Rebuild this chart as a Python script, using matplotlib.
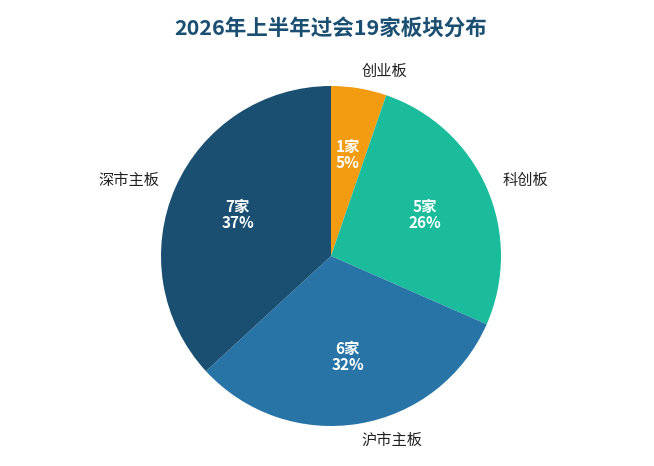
import matplotlib
matplotlib.use("Agg")
import matplotlib.pyplot as plt

plt.rcParams['font.family'] = ['Noto Sans CJK SC', 'DejaVu Sans']

boards = ["创业板", "科创板", "沪市主板", "深市主板"]
counts = [1, 5, 6, 7]
colors = ["#F39C12", "#1ABC9C", "#2874A6", "#1B4F72"]
title = "2026年上半年过会19家板块分布"

total = sum(counts)

fig = plt.figure(figsize=(6.54, 4.66), dpi=100)
# pie centre at (331, 256) px from top-left, radius ~170 px
ax = fig.add_axes([131 / 654, 10 / 466, 400 / 654, 400 / 466])
lim = 200 / 170


def fmt(pct):
    n = int(round(pct * total / 100))
    return f"{n}家\n{pct:.0f}%"


wedges, texts, autotexts = ax.pie(
    counts, labels=boards, colors=colors, startangle=90, counterclock=False,
    autopct=fmt, pctdistance=0.6, labeldistance=1.1,
    textprops={"fontsize": 11, "color": "#222222"},
)
for t in autotexts:
    t.set_color("white")
    t.set_fontweight("bold")
    t.set_fontsize(11)
    t.set_linespacing(1.0)
ax.set_aspect("equal")
ax.set_xlim(-lim, lim)
ax.set_ylim(-lim, lim)
ax.axis("off")

fig.text(331 / 654, 1 - 28 / 466, title, ha="center", va="center",
         fontsize=15.5, fontweight="bold", color="#1B4F72")

fig.savefig("out.png", dpi=100)
